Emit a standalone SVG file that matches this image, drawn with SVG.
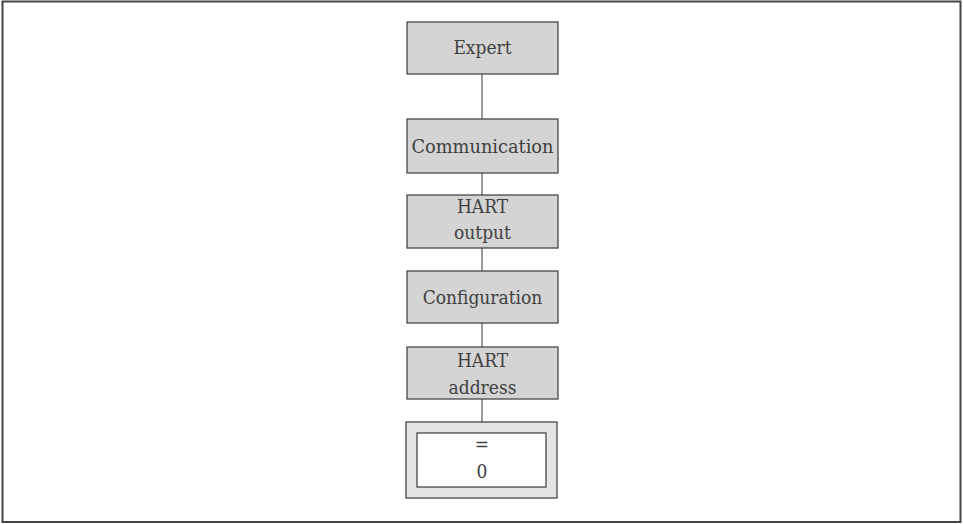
<svg xmlns="http://www.w3.org/2000/svg" width="963" height="524" viewBox="0 0 963 524">
<style>
.box{fill:#d4d4d4;stroke:#3a3a3a;stroke-width:1.2}
.t{font-family:"DejaVu Serif Condensed","DejaVu Serif","Liberation Serif",serif;font-stretch:condensed;font-size:19px;fill:#404040;text-anchor:middle}
.c{stroke:#555;stroke-width:1.2;fill:none}
</style>
<rect x="2.5" y="1.5" width="958" height="520.5" fill="#fff" stroke="#444" stroke-width="2"/>
<g id="connectors">
<line class="c" x1="482" y1="74" x2="482" y2="119"/>
<line class="c" x1="482" y1="173" x2="482" y2="195"/>
<line class="c" x1="482" y1="248" x2="482" y2="271"/>
<line class="c" x1="482" y1="323" x2="482" y2="347"/>
<line class="c" x1="482" y1="399" x2="482" y2="422"/>
</g>
<g id="expert"><rect class="box" x="407" y="22" width="151" height="52"/><text class="t" x="482.5" y="54">Expert</text></g>
<g id="communication"><rect class="box" x="407" y="119" width="151" height="54"/><text class="t" x="482.5" y="153" textLength="142" lengthAdjust="spacingAndGlyphs">Communication</text></g>
<g id="hart-output"><rect class="box" x="407" y="195" width="151" height="53"/><text class="t" x="482.5" y="213">HART</text><text class="t" x="482.5" y="239">output</text></g>
<g id="configuration"><rect class="box" x="407" y="271" width="151" height="52"/><text class="t" x="482.5" y="304">Configuration</text></g>
<g id="hart-address"><rect class="box" x="407" y="347" width="151" height="52"/><text class="t" x="482.5" y="367">HART</text><text class="t" x="482.5" y="394">address</text></g>
<g id="value"><rect x="406" y="422" width="151" height="76" fill="#e4e4e4" stroke="#3a3a3a" stroke-width="1.2"/><rect x="417" y="433" width="129" height="54" fill="#fff" stroke="#3a3a3a" stroke-width="1.2"/><text class="t" x="482" y="451">=</text><text class="t" x="482" y="478">0</text></g>
</svg>
